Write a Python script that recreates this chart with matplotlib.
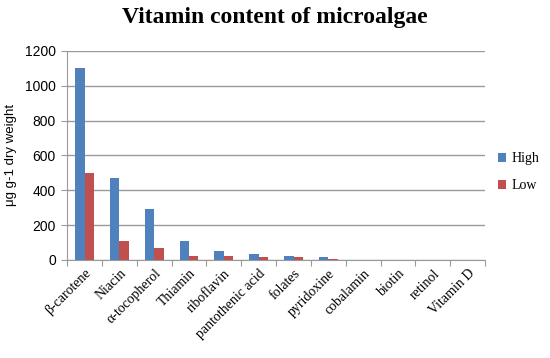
import matplotlib
matplotlib.use("Agg")
import matplotlib.pyplot as plt
import numpy as np

categories = ["β-carotene", "Niacin", "α-tocopherol", "Thiamin", "riboflavin",
              "pantothenic acid", "folates", "pyridoxine", "cobalamin", "biotin",
              "retinol", "Vitamin D"]
high = [1100, 470, 290, 110, 50, 35, 25, 15, 0, 0, 0, 0]
low = [500, 110, 70, 25, 25, 15, 15, 3, 0, 0, 0, 0]
yticks = [0, 200, 400, 600, 800, 1000, 1200]

fig = plt.figure(figsize=(5.5, 3.58), dpi=100)
ax = fig.add_axes([0.122, 0.274, 0.76, 0.584])

x = np.arange(len(categories))
w = 0.27
ax.bar(x - w/2, high, w, color="#4F81BD", label="High", zorder=3)
ax.bar(x + w/2, low, w, color="#C0504D", label="Low", zorder=3)

ax.set_xlim(-0.5, len(categories) - 0.5)
ax.set_ylim(0, 1200)
ax.set_yticks(yticks)
ax.set_yticklabels([str(v) for v in yticks], fontsize=10, family="Liberation Sans")
ax.yaxis.grid(True, color="#9a9a9a", linewidth=1, zorder=0)
ax.set_axisbelow(True)

ax.set_xticks(np.arange(len(categories) + 1) - 0.5)
ax.set_xticklabels([])
ax.set_xticks(x, minor=True)
ax.set_xticklabels(categories, minor=True, rotation=45, ha="right",
                   rotation_mode="anchor", fontsize=10, family="Liberation Serif")
ax.tick_params(axis="x", which="minor", length=0, pad=5)
ax.tick_params(axis="x", which="major", length=4, color="#9a9a9a", direction="out")
ax.tick_params(axis="y", length=4, color="#9a9a9a", direction="out", pad=4)

for s in ["top", "right"]:
    ax.spines[s].set_visible(False)
for s in ["left", "bottom"]:
    ax.spines[s].set_color("#9a9a9a")

ax.set_ylabel("μg g-1 dry weight", fontsize=9.5, family="Liberation Sans", labelpad=6)

fig.suptitle("Vitamin content of microalgae", fontsize=17, fontweight="bold",
             family="Liberation Serif", y=0.98)

leg = ax.legend(loc="center left", bbox_to_anchor=(1.0, 0.42), frameon=False,
                prop={"family": "Liberation Serif", "size": 10},
                handlelength=0.6, handleheight=0.6, handletextpad=0.4, labelspacing=1.0)

fig.savefig("out.png", dpi=100)
